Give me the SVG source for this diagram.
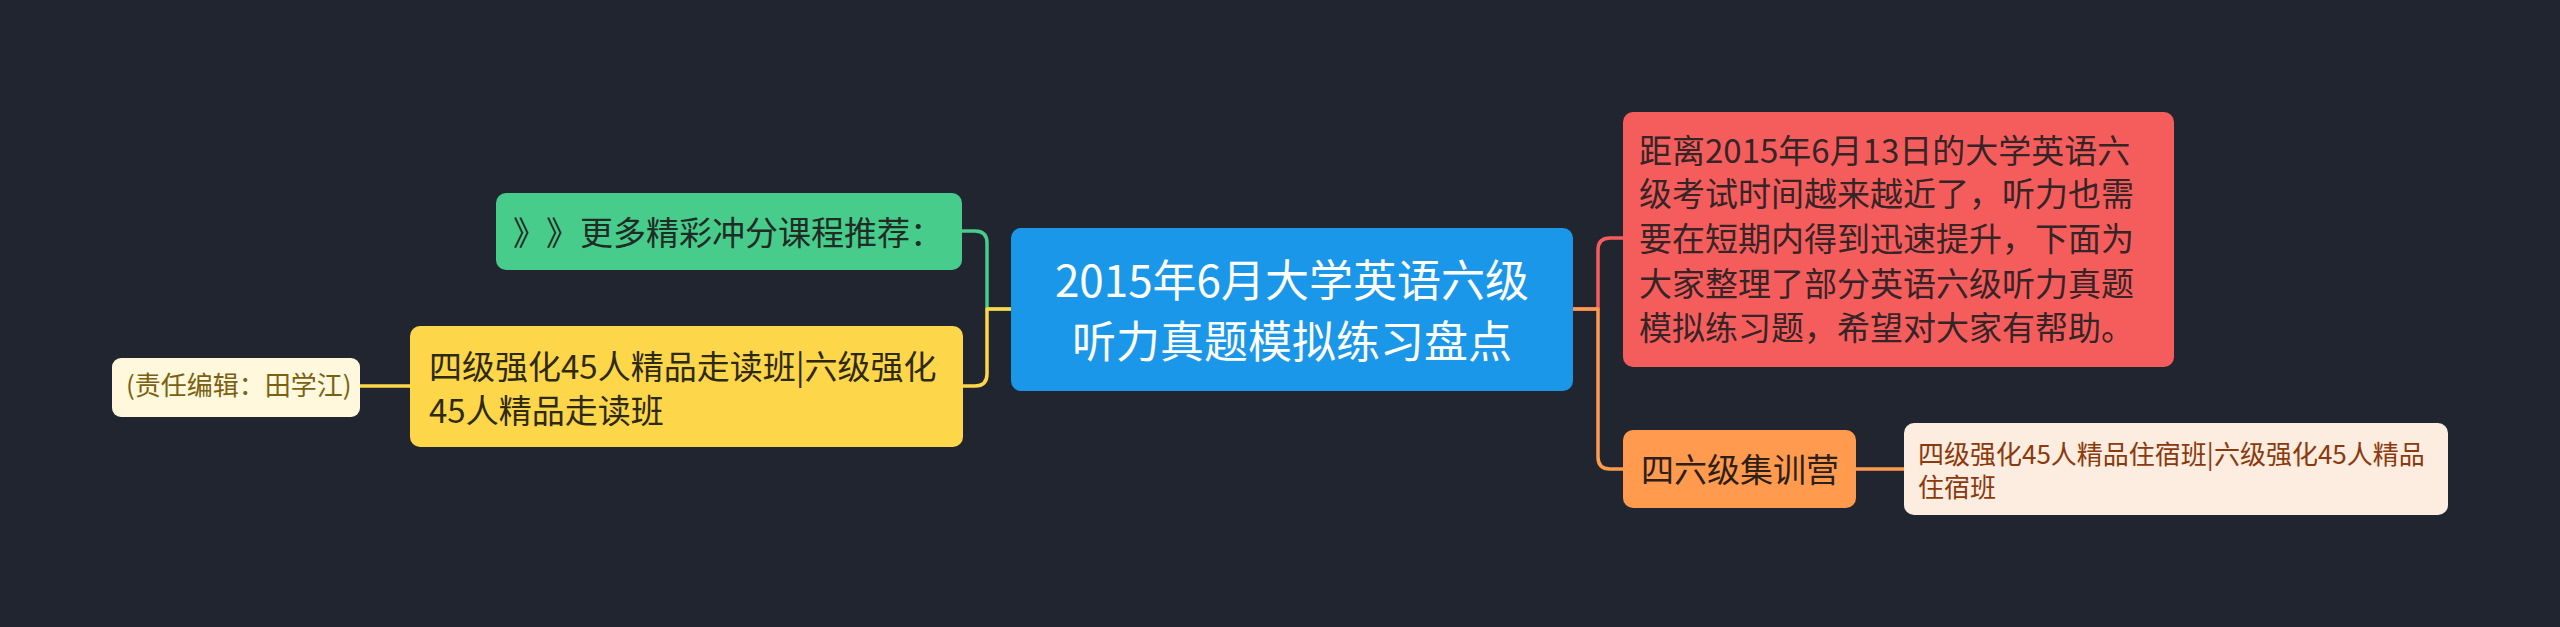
<svg xmlns="http://www.w3.org/2000/svg" width="2560" height="627" viewBox="0 0 2560 627">
  <style>
    text { font-family: "Noto Sans CJK SC", "Noto Sans", sans-serif; }
    .conn { fill: none; stroke-width: 3.5; stroke-linecap: round; stroke-linejoin: round; }
    .t33 { font-size: 33px; }
    .t26 { font-size: 26px; }
  </style>
  <rect x="0" y="0" width="2560" height="627" fill="#212530"/>

  <g id="connectors">
    <path class="conn" stroke="#46cc8c" d="M1011 309 H987 V243 Q987 231 975 231 H962"/>
    <path class="conn" stroke="#fdd64a" d="M1011 309 H987 V374 Q987 386 975 386 H963"/>
    <path class="conn" stroke="#fdd64a" d="M410 386 H360"/>
    <path class="conn" stroke="#f55d5d" d="M1573 309 H1598 V250 Q1598 238 1610 238 H1623"/>
    <path class="conn" stroke="#ff9a4f" d="M1573 309 H1598 V457 Q1598 469 1610 469 H1623"/>
    <path class="conn" stroke="#ff9a4f" d="M1856 469 H1904"/>
  </g>

  <g id="center">
    <rect x="1011" y="228" width="562" height="163" rx="10" fill="#1b97ea"/>
    <text x="1292" y="297" font-size="44" fill="#ffffff" text-anchor="middle">2015年6月大学英语六级</text>
    <text x="1292" y="358" font-size="44" fill="#ffffff" text-anchor="middle">听力真题模拟练习盘点</text>
  </g>

  <g id="red">
    <rect x="1623" y="112" width="551" height="255" rx="10" fill="#f55d5d"/>
    <text class="t33" fill="#362426">
      <tspan x="1639" y="162.5">距离2015年6月13日的大学英语六</tspan>
      <tspan x="1639" y="205.5">级考试时间越来越近了，听力也需</tspan>
      <tspan x="1639" y="250.5">要在短期内得到迅速提升，下面为</tspan>
      <tspan x="1639" y="295.5">大家整理了部分英语六级听力真题</tspan>
      <tspan x="1639" y="339.5">模拟练习题，希望对大家有帮助。</tspan>
    </text>
  </g>

  <g id="orange">
    <rect x="1623" y="430" width="233" height="78" rx="10" fill="#ff9a4f"/>
    <text class="t33" x="1641" y="481.5" fill="#2e2018">四六级集训营</text>
  </g>

  <g id="orange-child">
    <rect x="1904" y="423" width="544" height="92" rx="10" fill="#fdece0"/>
    <text class="t26" fill="#8a3a0c">
      <tspan x="1918" y="464">四级强化45人精品住宿班|六级强化45人精品</tspan>
      <tspan x="1918" y="497">住宿班</tspan>
    </text>
  </g>

  <g id="green">
    <rect x="496" y="193" width="466" height="77" rx="10" fill="#48cc8c"/>
    <text class="t33" y="244.5" fill="#1f2b24"><tspan x="513">》</tspan><tspan x="546">》</tspan><tspan x="580">更多精彩冲分课程推荐：</tspan></text>
  </g>

  <g id="yellow">
    <rect x="410" y="326" width="553" height="121" rx="10" fill="#fdd64a"/>
    <text class="t33" fill="#2e2a12">
      <tspan x="429" y="378.5">四级强化45人精品走读班|六级强化</tspan>
      <tspan x="429" y="422.5">45人精品走读班</tspan>
    </text>
  </g>

  <g id="beige">
    <rect x="112" y="358" width="248" height="59" rx="9" fill="#fff8dc"/>
    <text class="t26" x="126" y="395" fill="#7a6112">(责任编辑：田学江)</text>
  </g>
</svg>
